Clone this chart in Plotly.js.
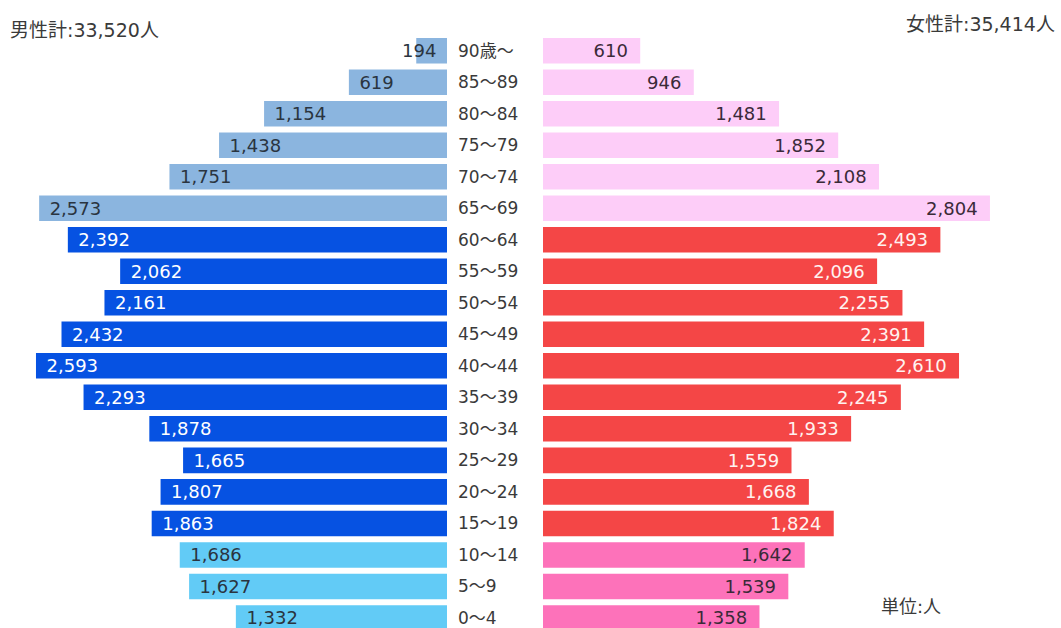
<!DOCTYPE html>
<html>
<head>
<meta charset="utf-8">
<script src="https://cdn.plot.ly/plotly-3.0.1.min.js"></script>
<style>html,body{margin:0;padding:0;background:#fff;}#chart{width:1061px;height:628px;}</style>
</head>
<body>
<div id="chart"></div>
<script>
// Age groups, bottom (youngest) to top (oldest)
const ages = ["0～4","5～9","10～14","15～19","20～24","25～29","30～34","35～39","40～44","45～49","50～54","55～59","60～64","65～69","70～74","75～79","80～84","85～89","90歳～"];
const male = [1332,1627,1686,1863,1807,1665,1878,2293,2593,2432,2161,2062,2392,2573,1751,1438,1154,619,194];
const female = [1358,1539,1642,1824,1668,1559,1933,2245,2610,2391,2255,2096,2493,2804,2108,1852,1481,946,610];
const maleTotalLabel = "男性計:33,520人";
const femaleTotalLabel = "女性計:35,414人";
const unitLabel = "単位:人";

// group: 0 = 0-14, 1 = 15-64, 2 = 65+
function group(i){ return i < 3 ? 0 : (i < 13 ? 1 : 2); }
const maleColors = ["#62cbf6","#0652e2","#8bb5df"];
const femaleColors = ["#fd72ba","#f44646","#fdcdf8"];
const maleText = ["#2a3440","#ffffff","#2a3440"];
const femaleText = ["#3a2a38","#fff2f0","#3a2a38"];

const fmt = v => v.toLocaleString("en-US");
const SMALL = 400; // labels of bars narrower than this are placed at the base

const FONT = "DejaVu Sans, Noto Sans CJK JP, sans-serif";
const TXT = 18;

const traceM = {
  type: "bar", orientation: "h", x: male, y: ages, xaxis: "x", yaxis: "y",
  width: 0.81,
  marker: {color: male.map((v,i)=>maleColors[group(i)])},
  text: male.map(v=> v < SMALL ? "" : "\u00a0\u200a" + fmt(v)),
  textposition: "inside", insidetextanchor: "end", constraintext: "none",
  textfont: {family: FONT, size: TXT, color: male.map((v,i)=>maleText[group(i)])},
  hoverinfo: "none"
};
const traceF = {
  type: "bar", orientation: "h", x: female, y: ages, xaxis: "x2", yaxis: "y",
  width: 0.81,
  marker: {color: female.map((v,i)=>femaleColors[group(i)])},
  text: female.map(v=>fmt(v) + "\u00a0\u2009"),
  textposition: "inside", insidetextanchor: "end", constraintext: "none",
  textfont: {family: FONT, size: TXT, color: female.map((v,i)=>femaleText[group(i)])},
  hoverinfo: "none"
};

const W = 1061, H = 628;
const annotations = [
  {text: maleTotalLabel, xref: "paper", yref: "paper", x: 8/W, y: (H-30)/(H-35), xanchor: "left", yanchor: "middle", showarrow: false, font: {family: FONT, size: 19, color: "#3a3a3a"}},
  {text: femaleTotalLabel, xref: "paper", yref: "paper", x: 1057/W, y: (H-24)/(H-35), xanchor: "right", yanchor: "middle", showarrow: false, font: {family: FONT, size: 19, color: "#3a3a3a"}},
  {text: unitLabel, xref: "paper", yref: "paper", x: 879/W, y: (H-606)/(H-35), xanchor: "left", yanchor: "middle", showarrow: false, font: {family: FONT, size: 18, color: "#3a3a3a"}}
];
male.forEach((v,i)=>{
  if (v < SMALL) {
    annotations.push({text: fmt(v), xref: "x", yref: "y", x: 0, y: ages[i], xanchor: "right", yanchor: "middle", xshift: -9, showarrow: false,
      font: {family: FONT, size: TXT, color: maleText[group(i)]}});
  }
});

const layout = {
  width: W, height: H,
  margin: {l: 0, r: 0, t: 35, b: 0, pad: 0},
  paper_bgcolor: "#ffffff", plot_bgcolor: "#ffffff",
  showlegend: false,
  font: {family: FONT, color: "#3a3a3a"},
  xaxis: {domain: [0, 447/W], range: [2820, 0], visible: false, fixedrange: true},
  xaxis2: {domain: [543/W, 1], range: [0, 518/0.1594], visible: false, fixedrange: true, anchor: "y"},
  yaxis: {
    type: "category", range: [-0.32, 18.5], side: "right", anchor: "x",
    showgrid: false, zeroline: false, showline: false, ticks: "",
    ticklabelstandoff: 10,
    tickfont: {family: FONT, size: 17, color: "#3a3a3a"}
  },
  annotations: annotations
};

Plotly.newPlot("chart", [traceM, traceF], layout, {staticPlot: true, displayModeBar: false});
</script>
</body>
</html>
